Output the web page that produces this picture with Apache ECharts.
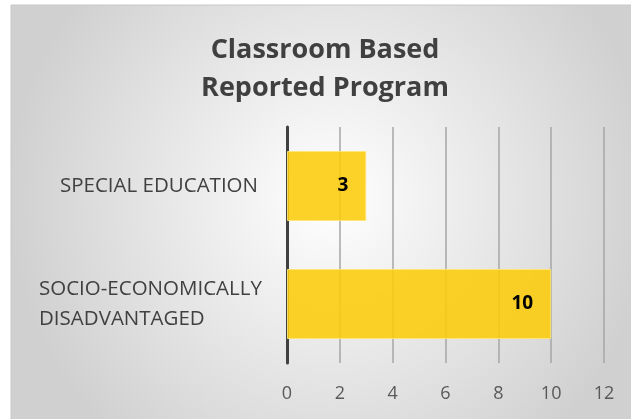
<!DOCTYPE html>
<html>
<head>
<meta charset="utf-8">
<script src="https://cdn.jsdelivr.net/npm/echarts@6/dist/echarts.min.js"></script>
<style>
  body { margin: 0; background: #fff; }
  #chart { width: 631px; height: 419px; }
</style>
</head>
<body>
<div id="chart"></div>
<script>
// categories and values (top to bottom)
const categories = ['SPECIAL EDUCATION', 'SOCIO-ECONOMICALLY\nDISADVANTAGED']
const values = [3, 10]
const xTicks = [0, 2, 4, 6, 8, 10, 12]

const myChart = echarts.init(document.getElementById('chart'))
const font = '"Open Sans", "Noto Sans", sans-serif'

let option = {
  backgroundColor: '#fff',
  animation: false,
  graphic: [
    {
      type: 'rect',
      z: -10,
      shape: { x: 11, y: 5, width: 640, height: 430 },
      style: {
        fill: new echarts.graphic.RadialGradient(0.5, 0.45, 0.75, [
          { offset: 0, color: '#ffffff' },
          { offset: 1, color: '#d0d0d0' }
        ]),
        stroke: '#c8c8c8',
        lineWidth: 1
      }
    }
  ],
  title: {
    text: 'Classroom Based\nReported Program',
    left: 320,
    textAlign: 'center',
    top: 26,
    textStyle: {
      fontFamily: font,
      fontWeight: 'bold',
      fontSize: 27,
      lineHeight: 38,
      color: '#404040'
    }
  },
  grid: { left: 287, right: 27, top: 127, bottom: 56 },
  xAxis: {
    type: 'value',
    min: xTicks[0],
    max: xTicks[xTicks.length - 1],
    interval: 2,
    axisLine: { show: false },
    axisTick: { show: false },
    splitLine: { lineStyle: { color: '#a6a6a6', width: 1.5 } },
    axisLabel: {
      margin: 22,
      fontFamily: font,
      fontSize: 18,
      color: '#595959'
    }
  },
  yAxis: {
    type: 'category',
    inverse: true,
    data: categories,
    axisLine: { lineStyle: { color: '#404040', width: 3 } },
    axisTick: { show: false },
    axisLabel: {
      margin: 22,
      fontFamily: font,
      fontSize: 20.5,
      color: '#404040',
      lineHeight: 30,
      formatter: function (v) {
        if (v.indexOf('\n') < 0) return '{s|' + v + '}'
        return v.split('\n').map(s => '{l|' + s + '}').join('\n')
      },
      rich: {
        s: { padding: [0, 7, 0, 0], fontFamily: font, fontSize: 20.5, color: '#404040' },
        l: { width: 226, align: 'left', fontFamily: font, fontSize: 20.5, color: '#404040', lineHeight: 30 }
      }
    }
  },
  series: [
    {
      type: 'bar',
      data: values,
      barWidth: 70,
      itemStyle: {
        color: 'rgba(252, 204, 10, 0.88)',
        borderColor: 'rgba(255, 230, 120, 0.9)',
        borderWidth: 1
      },
      label: {
        show: true,
        position: 'insideRight',
        distance: 18,
        fontFamily: font,
        fontWeight: 'bold',
        fontSize: 19,
        color: '#000'
      }
    }
  ]
}
myChart.setOption(option)
</script>
</body>
</html>
